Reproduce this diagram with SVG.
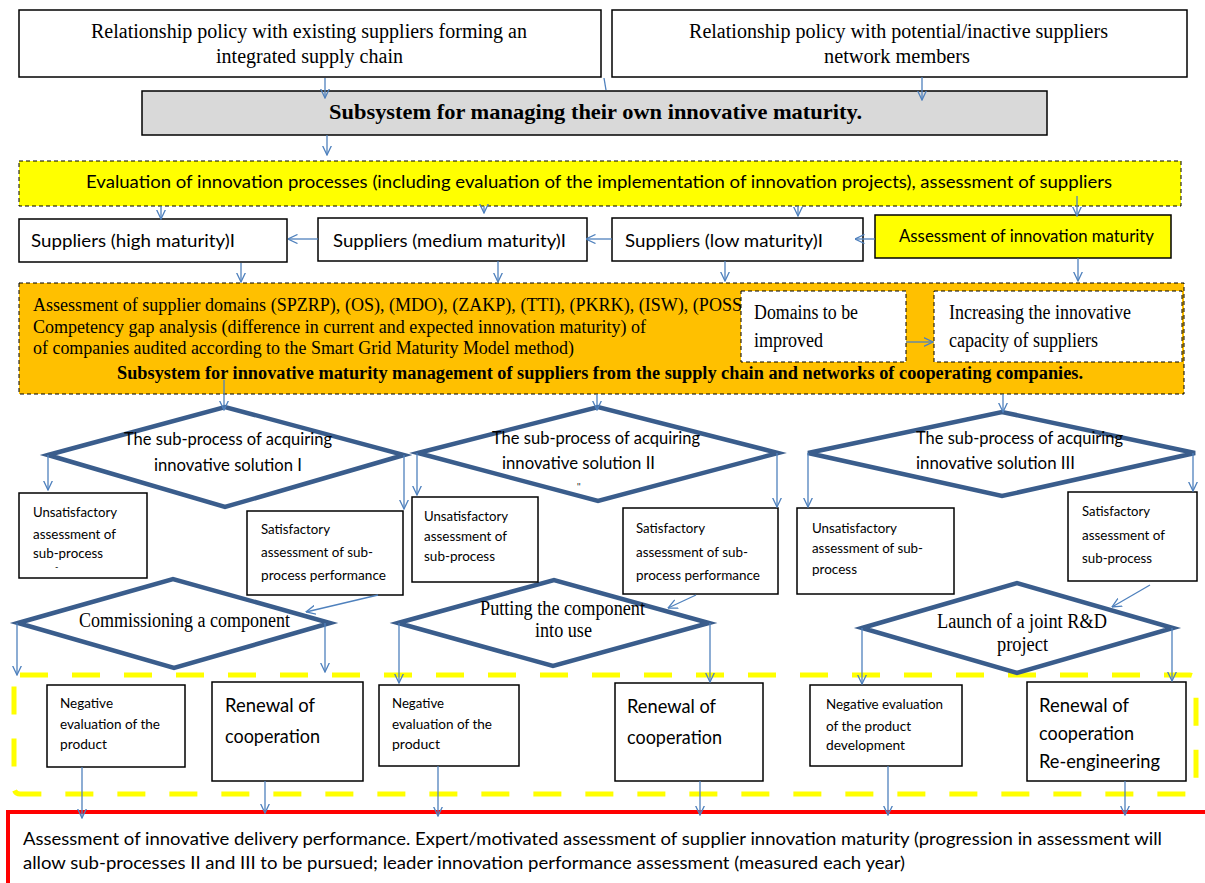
<svg xmlns="http://www.w3.org/2000/svg" width="1205" height="883" viewBox="0 0 1205 883">
<defs>
<marker id="ah" markerUnits="userSpaceOnUse" markerWidth="10" markerHeight="10" viewBox="0 0 10 10" refX="9.5" refY="5" orient="auto">
<path d="M0,0.5 L9.5,5 L0,9.5" fill="none" stroke="#4f81bd" stroke-width="1.3"/>
</marker>
</defs>
<style>
.box{fill:#fff;stroke:#000;stroke-width:1.5}
.dbox{stroke:#000;stroke-width:1;stroke-dasharray:4 3}
.dia{fill:#fff;stroke:#3a5d8c;stroke-width:4.5;stroke-linejoin:miter}
.c line{stroke:#4f81bd;stroke-width:1.3;marker-end:url(#ah)}
.tr{font-family:"Liberation Serif","Times New Roman",serif;fill:#000}
.ca{font-family:Lato,"Open Sans","Liberation Sans",sans-serif;fill:#000}
.b{font-weight:bold}
</style>
<rect width="1205" height="883" fill="#fff"/>

<g id="policy-existing">
<rect class="box" x="19" y="10" width="582" height="67"/>
<text class="tr" font-size="20" x="91" y="38" textLength="436" lengthAdjust="spacingAndGlyphs">Relationship policy with existing suppliers forming an</text>
<text class="tr" font-size="20" x="216" y="63" textLength="187" lengthAdjust="spacingAndGlyphs">integrated supply chain</text>
</g>
<g id="policy-potential">
<rect class="box" x="612" y="10" width="575" height="67"/>
<text class="tr" font-size="20" x="689" y="38" textLength="419" lengthAdjust="spacingAndGlyphs">Relationship policy with potential/inactive suppliers</text>
<text class="tr" font-size="20" x="824" y="63" textLength="146" lengthAdjust="spacingAndGlyphs">network members</text>
</g>
<g id="own-maturity">
<rect x="142" y="91" width="905" height="44" fill="#d9d9d9" stroke="#000" stroke-width="1.5"/>
<text class="tr b" font-size="21" x="329" y="119" textLength="533" lengthAdjust="spacingAndGlyphs">Subsystem for managing their own innovative maturity.</text>
</g>
<g id="evaluation">
<rect class="dbox" x="19" y="161" width="1162" height="45" fill="#ffff00"/>
<text class="ca" font-size="17" x="86" y="188" textLength="1026" lengthAdjust="spacingAndGlyphs">Evaluation  of innovation processes (including  evaluation of the implementation of innovation projects), assessment of suppliers</text>
</g>
<g id="sup-high">
<rect class="box" x="19" y="219" width="268" height="43"/>
<text class="ca" font-size="18" x="31" y="247" textLength="204" lengthAdjust="spacingAndGlyphs">Suppliers (high maturity)I</text>
</g>
<g id="sup-medium">
<rect class="box" x="318" y="218" width="269" height="43"/>
<text class="ca" font-size="18" x="333" y="247" textLength="233" lengthAdjust="spacingAndGlyphs">Suppliers (medium maturity)I</text>
</g>
<g id="sup-low">
<rect class="box" x="612" y="218" width="251" height="43"/>
<text class="ca" font-size="18" x="625" y="247" textLength="198" lengthAdjust="spacingAndGlyphs">Suppliers (low maturity)I</text>
</g>
<g id="assess-maturity">
<rect x="875" y="215" width="296" height="43" fill="#ffff00" stroke="#000" stroke-width="1.5"/>
<text class="ca" font-size="18" x="899" y="242" textLength="255" lengthAdjust="spacingAndGlyphs">Assessment of innovation maturity</text>
</g>
<g id="supplier-subsystem">
<rect class="dbox" x="19" y="283" width="1165" height="111" fill="#ffc000"/>
<text class="tr" font-size="18" x="33" y="311" textLength="709" lengthAdjust="spacingAndGlyphs">Assessment of supplier domains (SPZRP), (OS), (MDO), (ZAKP), (TTI), (PKRK), (ISW), (POSS</text>
<text class="tr" font-size="18" x="33" y="333" textLength="613" lengthAdjust="spacingAndGlyphs">Competency gap analysis (difference in current and expected innovation maturity) of</text>
<text class="tr" font-size="18" x="33" y="354" textLength="541" lengthAdjust="spacingAndGlyphs">of companies audited according to the Smart Grid Maturity Model method)</text>
<text class="tr b" font-size="18" x="117" y="379" textLength="966" lengthAdjust="spacingAndGlyphs">Subsystem for innovative maturity management of suppliers from the supply chain and networks of cooperating companies.</text>
</g>
<g id="domains">
<rect class="dbox" x="741" y="291" width="165" height="71" fill="#fff"/>
<text class="tr" font-size="20" x="754" y="319" textLength="104" lengthAdjust="spacingAndGlyphs">Domains to be</text>
<text class="tr" font-size="20" x="754" y="347" textLength="69" lengthAdjust="spacingAndGlyphs">improved</text>
</g>
<g id="increasing">
<rect class="dbox" x="934" y="291" width="248" height="71" fill="#fff"/>
<text class="tr" font-size="20" x="949" y="319" textLength="182" lengthAdjust="spacingAndGlyphs">Increasing the innovative</text>
<text class="tr" font-size="20" x="949" y="347" textLength="149" lengthAdjust="spacingAndGlyphs">capacity of suppliers</text>
</g>

<rect id="dashed-zone" x="14" y="675" width="1182" height="119" rx="6" fill="none" stroke="#ffff00" stroke-width="5" stroke-dasharray="28 24"/>

<g id="sub1">
<polygon class="dia" points="48,455 225,407 404,455 225,507"/>
<text class="ca" font-size="18" x="124" y="445" textLength="208" lengthAdjust="spacingAndGlyphs">The sub-process of acquiring</text>
<text class="ca" font-size="18" x="154" y="471" textLength="148" lengthAdjust="spacingAndGlyphs">innovative solution I</text>
</g>
<g id="sub2">
<polygon class="dia" points="418,453 598,407 778,453 598,501"/>
<text class="ca" font-size="18" x="492" y="444" textLength="208" lengthAdjust="spacingAndGlyphs">The sub-process of acquiring</text>
<text class="ca" font-size="18" x="502" y="469" textLength="153" lengthAdjust="spacingAndGlyphs">innovative solution II</text>
<text class="ca" font-size="9" x="577" y="490">''</text>
</g>
<g id="sub3">
<polygon class="dia" points="808,453 1002,412 1195,453 1002,496"/>
<text class="ca" font-size="18" x="916" y="444" textLength="207" lengthAdjust="spacingAndGlyphs">The sub-process of acquiring</text>
<text class="ca" font-size="18" x="916" y="469" textLength="159" lengthAdjust="spacingAndGlyphs">innovative solution III</text>
</g>
<g id="commissioning">
<polygon class="dia" points="18,623 173,579 330,623 174,668"/>
<text class="tr" font-size="20" x="79" y="627" textLength="211" lengthAdjust="spacingAndGlyphs">Commissioning a component</text>
</g>
<g id="putting">
<polygon class="dia" points="398,623 554,580 709,623 553,666"/>
<text class="tr" font-size="20" x="480" y="615" textLength="165" lengthAdjust="spacingAndGlyphs">Putting the component</text>
<text class="tr" font-size="20" x="535" y="637" textLength="57" lengthAdjust="spacingAndGlyphs">into use</text>
</g>
<g id="launch">
<polygon class="dia" points="862,628 1017,583 1173,628 1017,673"/>
<text class="tr" font-size="20" x="937" y="628" textLength="170" lengthAdjust="spacingAndGlyphs">Launch of a joint R&amp;D</text>
<text class="tr" font-size="20" x="997" y="651" textLength="51" lengthAdjust="spacingAndGlyphs">project</text>
</g>

<g id="unsat1">
<rect class="box" x="19" y="493" width="128" height="85"/>
<text class="ca" font-size="14" x="33" y="517" textLength="84" lengthAdjust="spacingAndGlyphs">Unsatisfactory</text>
<text class="ca" font-size="14" x="33" y="539" textLength="83" lengthAdjust="spacingAndGlyphs">assessment of</text>
<text class="ca" font-size="14" x="33" y="558" textLength="70" lengthAdjust="spacingAndGlyphs">sub-process</text>
<text class="ca" font-size="9" x="55" y="570">-</text>
</g>
<g id="sat1">
<rect class="box" x="247" y="511" width="156" height="84"/>
<text class="ca" font-size="14" x="261" y="534" textLength="69" lengthAdjust="spacingAndGlyphs">Satisfactory</text>
<text class="ca" font-size="14" x="261" y="557" textLength="112" lengthAdjust="spacingAndGlyphs">assessment of sub-</text>
<text class="ca" font-size="14" x="261" y="580" textLength="125" lengthAdjust="spacingAndGlyphs">process performance</text>
</g>
<g id="unsat2">
<rect class="box" x="412" y="497" width="126" height="85"/>
<text class="ca" font-size="14" x="424" y="521" textLength="84" lengthAdjust="spacingAndGlyphs">Unsatisfactory</text>
<text class="ca" font-size="14" x="424" y="541" textLength="83" lengthAdjust="spacingAndGlyphs">assessment of</text>
<text class="ca" font-size="14" x="424" y="561" textLength="71" lengthAdjust="spacingAndGlyphs">sub-process</text>
</g>
<g id="sat2">
<rect class="box" x="623" y="508" width="155" height="86"/>
<text class="ca" font-size="14" x="636" y="533" textLength="69" lengthAdjust="spacingAndGlyphs">Satisfactory</text>
<text class="ca" font-size="14" x="636" y="557" textLength="112" lengthAdjust="spacingAndGlyphs">assessment of sub-</text>
<text class="ca" font-size="14" x="636" y="580" textLength="124" lengthAdjust="spacingAndGlyphs">process performance</text>
</g>
<g id="unsat3">
<rect class="box" x="797" y="508" width="157" height="86"/>
<text class="ca" font-size="14" x="812" y="533" textLength="85" lengthAdjust="spacingAndGlyphs">Unsatisfactory</text>
<text class="ca" font-size="14" x="812" y="553" textLength="111" lengthAdjust="spacingAndGlyphs">assessment of sub-</text>
<text class="ca" font-size="14" x="812" y="574" textLength="45" lengthAdjust="spacingAndGlyphs">process</text>
</g>
<g id="sat3">
<rect class="box" x="1068" y="492" width="129" height="89"/>
<text class="ca" font-size="14" x="1082" y="516" textLength="68" lengthAdjust="spacingAndGlyphs">Satisfactory</text>
<text class="ca" font-size="14" x="1082" y="540" textLength="83" lengthAdjust="spacingAndGlyphs">assessment of</text>
<text class="ca" font-size="14" x="1082" y="563" textLength="70" lengthAdjust="spacingAndGlyphs">sub-process</text>
</g>

<g id="neg1">
<rect class="box" x="47" y="685" width="138" height="82"/>
<text class="ca" font-size="13" x="60" y="708" textLength="53" lengthAdjust="spacingAndGlyphs">Negative</text>
<text class="ca" font-size="13" x="60" y="729" textLength="100" lengthAdjust="spacingAndGlyphs">evaluation of the</text>
<text class="ca" font-size="13" x="60" y="749" textLength="47" lengthAdjust="spacingAndGlyphs">product</text>
</g>
<g id="renew1">
<rect class="box" x="212" y="682" width="151" height="99"/>
<text class="ca" font-size="19" x="225" y="712" textLength="90" lengthAdjust="spacingAndGlyphs">Renewal of</text>
<text class="ca" font-size="19" x="225" y="743" textLength="95" lengthAdjust="spacingAndGlyphs">cooperation</text>
</g>
<g id="neg2">
<rect class="box" x="379" y="685" width="140" height="81"/>
<text class="ca" font-size="13" x="392" y="708" textLength="52" lengthAdjust="spacingAndGlyphs">Negative</text>
<text class="ca" font-size="13" x="392" y="729" textLength="100" lengthAdjust="spacingAndGlyphs">evaluation of the</text>
<text class="ca" font-size="13" x="392" y="749" textLength="48" lengthAdjust="spacingAndGlyphs">product</text>
</g>
<g id="renew2">
<rect class="box" x="615" y="683" width="148" height="98"/>
<text class="ca" font-size="19" x="627" y="713" textLength="89" lengthAdjust="spacingAndGlyphs">Renewal of</text>
<text class="ca" font-size="19" x="627" y="744" textLength="95" lengthAdjust="spacingAndGlyphs">cooperation</text>
</g>
<g id="neg3">
<rect class="box" x="810" y="685" width="152" height="81"/>
<text class="ca" font-size="13" x="826" y="709" textLength="117" lengthAdjust="spacingAndGlyphs">Negative evaluation</text>
<text class="ca" font-size="13" x="826" y="731" textLength="85" lengthAdjust="spacingAndGlyphs">of the product</text>
<text class="ca" font-size="13" x="826" y="750" textLength="79" lengthAdjust="spacingAndGlyphs">development</text>
</g>
<g id="renew3">
<rect class="box" x="1027" y="682" width="159" height="99"/>
<text class="ca" font-size="19" x="1039" y="712" textLength="90" lengthAdjust="spacingAndGlyphs">Renewal of</text>
<text class="ca" font-size="19" x="1039" y="740" textLength="95" lengthAdjust="spacingAndGlyphs">cooperation</text>
<text class="ca" font-size="19" x="1039" y="768" textLength="121" lengthAdjust="spacingAndGlyphs">Re-engineering</text>
</g>

<g id="final-assessment">
<rect x="8" y="812" width="1210" height="90" fill="#fff" stroke="#ff0000" stroke-width="4"/>
<text class="ca" font-size="18" x="23" y="845" textLength="1139" lengthAdjust="spacingAndGlyphs">Assessment of innovative delivery performance. Expert/motivated assessment of supplier innovation maturity (progression in assessment will</text>
<text class="ca" font-size="18" x="23" y="869" textLength="882" lengthAdjust="spacingAndGlyphs">allow  sub-processes II and III to be pursued; leader innovation performance assessment (measured each year)</text>
</g>

<g id="connectors" class="c">
<line x1="325" y1="78" x2="325" y2="98"/>
<line x1="922" y1="77" x2="922" y2="100"/>
<line x1="604" y1="78" x2="606" y2="90" style="marker-end:none"/>
<line x1="327" y1="135" x2="327" y2="155"/>
<line x1="161" y1="206" x2="161" y2="219"/>
<line x1="484" y1="206" x2="484" y2="213"/>
<line x1="798" y1="206" x2="798" y2="216"/>
<line x1="1077" y1="196" x2="1077" y2="216"/>
<line x1="318" y1="239" x2="288" y2="239"/>
<line x1="612" y1="239" x2="586" y2="239"/>
<line x1="875" y1="239" x2="855" y2="239"/>
<line x1="241" y1="263" x2="241" y2="282"/>
<line x1="498" y1="261" x2="498" y2="282"/>
<line x1="725" y1="261" x2="725" y2="281"/>
<line x1="1078" y1="258" x2="1078" y2="281"/>
<line x1="906" y1="342" x2="933" y2="342"/>
<line x1="224" y1="380" x2="224" y2="410"/>
<line x1="597" y1="394" x2="597" y2="410"/>
<line x1="1003" y1="394" x2="1003" y2="412"/>
<line x1="48" y1="455" x2="48" y2="490"/>
<line x1="404" y1="455" x2="404" y2="509"/>
<line x1="417" y1="453" x2="417" y2="495"/>
<line x1="777" y1="453" x2="777" y2="507"/>
<line x1="808" y1="453" x2="808" y2="507"/>
<line x1="1193" y1="453" x2="1193" y2="491"/>
<line x1="378" y1="595" x2="306" y2="612"/>
<line x1="696" y1="595" x2="668" y2="608"/>
<line x1="1150" y1="585" x2="1112" y2="607"/>
<line x1="17" y1="623" x2="17" y2="675"/>
<line x1="325" y1="623" x2="325" y2="672"/>
<line x1="399" y1="623" x2="399" y2="683"/>
<line x1="710" y1="623" x2="710" y2="682"/>
<line x1="862" y1="628" x2="862" y2="684"/>
<line x1="1172" y1="628" x2="1172" y2="681"/>
<line x1="82" y1="767" x2="82" y2="818"/>
<line x1="265" y1="781" x2="265" y2="813"/>
<line x1="438" y1="766" x2="438" y2="816"/>
<line x1="700" y1="781" x2="700" y2="815"/>
<line x1="888" y1="766" x2="888" y2="815"/>
<line x1="1125" y1="781" x2="1125" y2="815"/>
</g>
</svg>
